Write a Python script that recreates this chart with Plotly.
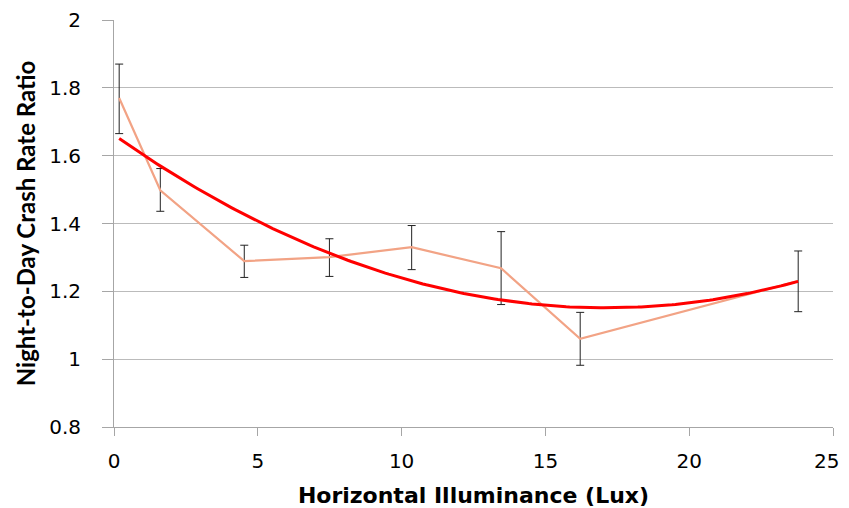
import numpy as np
import plotly.graph_objects as go

# Data
illuminance = [0.18, 1.61, 4.53, 7.49, 10.35, 13.46, 16.21, 23.79]
crash_ratio = [1.770, 1.498, 1.289, 1.301, 1.330, 1.268, 1.060, 1.230]
err_upper = [1.870, 1.562, 1.336, 1.355, 1.394, 1.376, 1.138, 1.319]
err_lower = [1.665, 1.436, 1.241, 1.244, 1.264, 1.161, 0.982, 1.140]

x_ticks = [0, 5, 10, 15, 20, 25]
# last label padded so it is not clipped at the window edge
x_tick_labels = ["0", "5", "10", "15", "20", "25\u00a0\u00a0"]
y_ticks = [0.8, 1.0, 1.2, 1.4, 1.6, 1.8, 2.0]

plus = [u - v for u, v in zip(err_upper, crash_ratio)]
minus = [v - l for v, l in zip(crash_ratio, err_lower)]

# second-order polynomial trendline fitted to the data (as in the source chart)
coef = np.polyfit(illuminance, crash_ratio, 2)
xs = np.linspace(min(illuminance), max(illuminance), 200)
ys = np.polyval(coef, xs)

fig = go.Figure()
fig.add_trace(go.Scatter(
    x=illuminance, y=crash_ratio, mode="lines",
    line=dict(color="#F2A385", width=2.2),
    error_y=dict(type="data", symmetric=False, array=plus, arrayminus=minus,
                 color="#222222", thickness=1, width=4),
    showlegend=False,
))
fig.add_trace(go.Scatter(
    x=xs, y=ys, mode="lines",
    line=dict(color="#FF0000", width=3),
    showlegend=False,
))

tick_font = dict(family="DejaVu Sans", size=20, color="#000000")
# page body has an 8px default margin, so the figure is sized/offset to compensate
fig.update_layout(
    width=841, height=500,
    margin=dict(l=106, r=16, t=12, b=81),
    paper_bgcolor="white", plot_bgcolor="white",
    font=dict(family="DejaVu Sans", color="#000000"),
    xaxis=dict(
        range=[0, 25], tickvals=x_ticks, ticktext=x_tick_labels, showgrid=False,
        showline=True, linecolor="#A6A6A6", linewidth=1,
        ticks="outside", ticklen=8, tickcolor="#A6A6A6",
        tickfont=tick_font, ticklabelstandoff=8, automargin=False,
        ticklabeloverflow="allow",
        title=dict(text="<b>Horizontal Illuminance (Lux)</b>",
                   font=dict(family="DejaVu Sans", size=22), standoff=15),
        zeroline=False,
    ),
    yaxis=dict(
        range=[0.8, 2.0], tickvals=y_ticks, showgrid=True, gridcolor="#BBBBBB", gridwidth=1,
        showline=True, linecolor="#A6A6A6", linewidth=1,
        ticks="outside", ticklen=11, tickcolor="#A6A6A6",
        tickfont=tick_font, ticklabelstandoff=17, automargin=False,
        title=dict(text="<b>Night-to-Day Crash Rate Ratio</b>",
                   font=dict(family="Lato", size=24), standoff=6),
        zeroline=False,
    ),
)

fig.write_html("out.html")
